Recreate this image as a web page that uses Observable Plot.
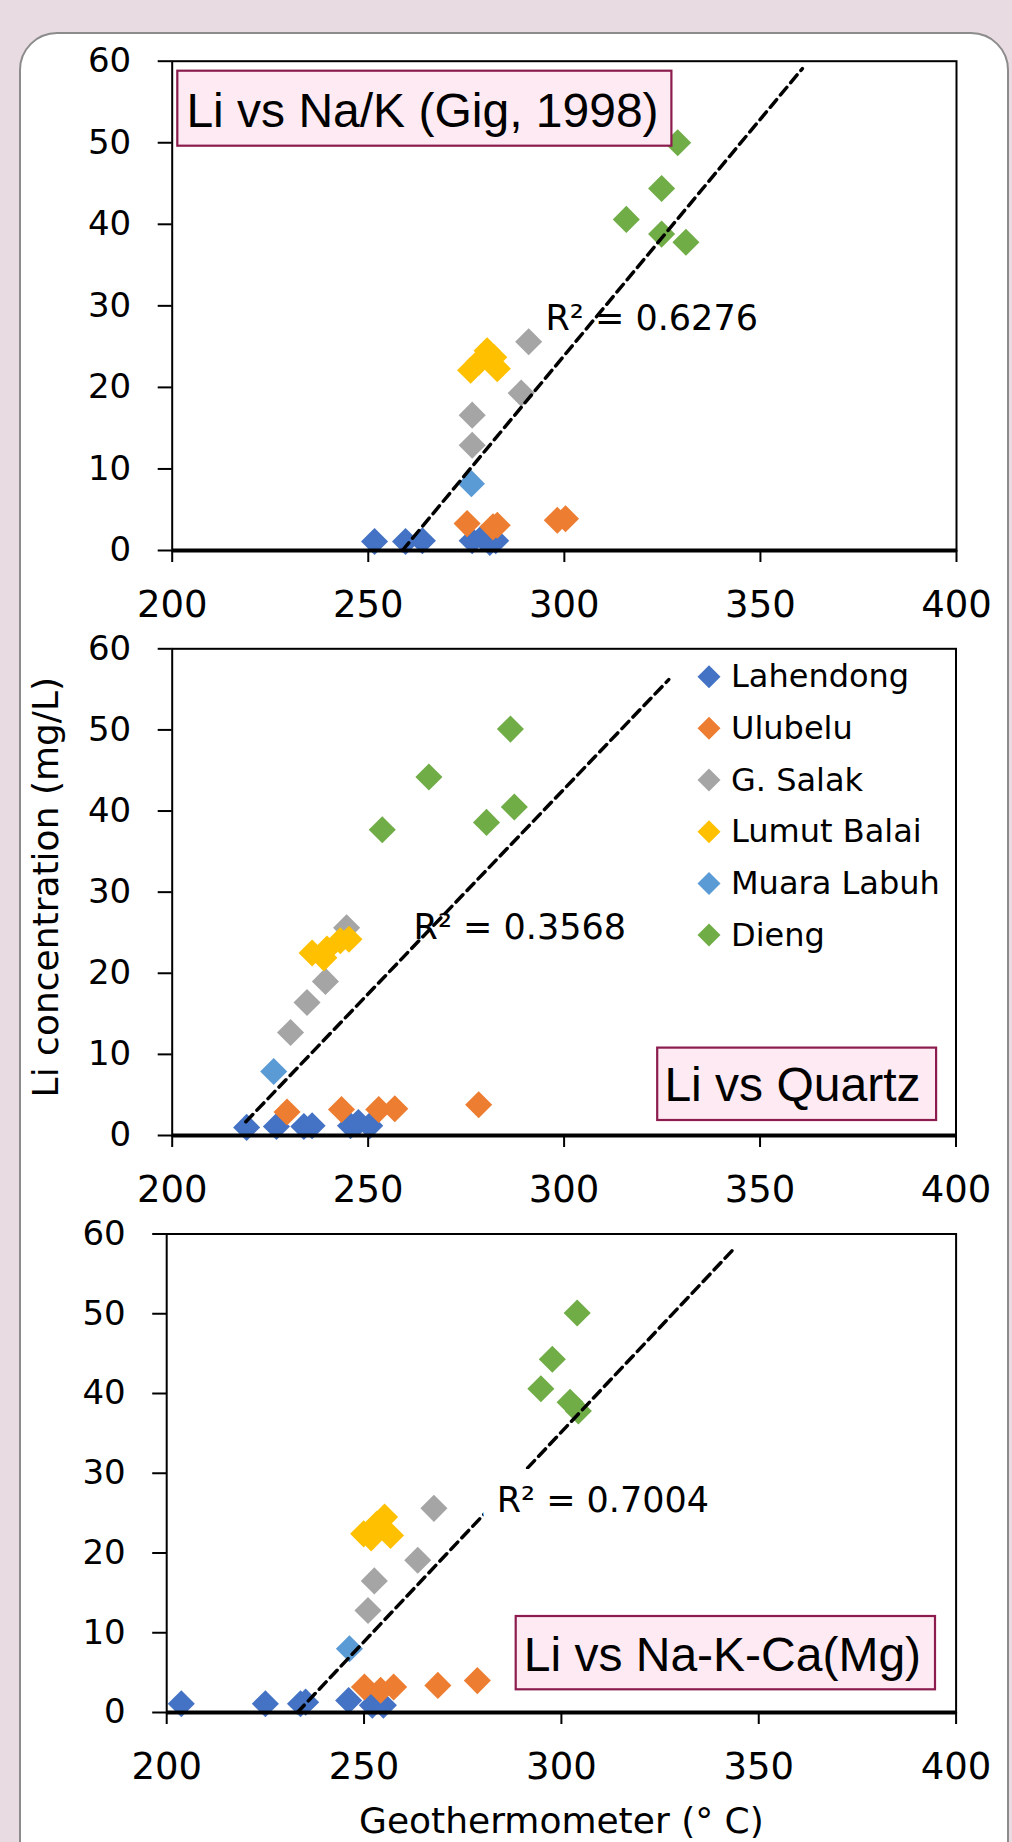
<!DOCTYPE html>
<html>
<head>
<meta charset="utf-8">
<script src="https://cdn.jsdelivr.net/npm/d3@7"></script>
<script src="https://cdn.jsdelivr.net/npm/@observablehq/plot@0.6"></script>
<style>
  body { margin: 0; background: #e9dbe2; }
  #wrap { position: relative; width: 1012px; height: 1842px; overflow: hidden; background: #e9dbe2; }
  #card { position: absolute; left: 19px; top: 32px; width: 990px; height: 1900px; box-sizing: border-box;
          background: #ffffff; border: 2px solid #8c8c8c; border-radius: 38px; }
</style>
</head>
<body>
<div id="wrap"><div id="card"></div></div>
<script>
// ---------------- data ----------------
const sites = ["Lahendong", "Ulubelu", "G. Salak", "Lumut Balai", "Muara Labuh", "Dieng"];
const siteColors = ["#4472c4", "#ed7d31", "#a5a5a5", "#ffc000", "#5b9bd5", "#70ad47"];
const xTicks = [200, 250, 300, 350, 400];
const yTicks = [0, 10, 20, 30, 40, 50, 60];

// [site, geothermometer temperature (°C), Li concentration (mg/L)]
const naKPoints = [
  ["Lahendong", 251.6, 1.1], ["Lahendong", 259.5, 1.1], ["Lahendong", 263.8, 1.2], ["Lahendong", 276.5, 1.2],
  ["Lahendong", 279.1, 1.6], ["Lahendong", 282.5, 1.2], ["Lahendong", 281.0, 1.0],
  ["Ulubelu", 275.2, 3.3], ["Ulubelu", 282.9, 3.1], ["Ulubelu", 281.8, 2.9], ["Ulubelu", 298.2, 3.7], ["Ulubelu", 300.3, 3.9],
  ["G. Salak", 290.9, 25.6], ["G. Salak", 289.0, 19.3], ["G. Salak", 276.5, 16.6], ["G. Salak", 276.5, 12.9],
  ["Lumut Balai", 276.1, 22.1], ["Lumut Balai", 278.2, 23.1], ["Lumut Balai", 280.3, 24.5], ["Lumut Balai", 282.0, 23.7], ["Lumut Balai", 282.9, 22.3],
  ["Muara Labuh", 276.3, 8.2],
  ["Dieng", 328.9, 50.0], ["Dieng", 324.8, 44.4], ["Dieng", 315.8, 40.6], ["Dieng", 324.8, 38.8], ["Dieng", 331.0, 37.8]
];
const quartzPoints = [
  ["Lahendong", 219.0, 1.0], ["Lahendong", 226.6, 1.1], ["Lahendong", 233.6, 1.1], ["Lahendong", 235.7, 1.2],
  ["Lahendong", 245.5, 1.2], ["Lahendong", 247.5, 1.6], ["Lahendong", 250.4, 1.2],
  ["Ulubelu", 229.3, 2.9], ["Ulubelu", 243.2, 3.2], ["Ulubelu", 252.7, 3.2], ["Ulubelu", 256.8, 3.3], ["Ulubelu", 278.2, 3.8],
  ["G. Salak", 244.5, 25.6], ["G. Salak", 239.1, 19.0], ["G. Salak", 234.4, 16.4], ["G. Salak", 230.2, 12.7],
  ["Lumut Balai", 235.7, 22.5], ["Lumut Balai", 238.7, 21.9], ["Lumut Balai", 239.5, 23.0], ["Lumut Balai", 242.9, 24.0], ["Lumut Balai", 245.1, 24.2],
  ["Muara Labuh", 225.9, 7.9],
  ["Dieng", 286.3, 50.1], ["Dieng", 265.5, 44.2], ["Dieng", 253.6, 37.7], ["Dieng", 280.2, 38.6], ["Dieng", 287.3, 40.5]
];
const naKCaPoints = [
  ["Lahendong", 203.7, 1.1], ["Lahendong", 225.0, 1.1], ["Lahendong", 233.9, 1.1], ["Lahendong", 235.2, 1.3],
  ["Lahendong", 246.1, 1.5], ["Lahendong", 252.1, 0.9], ["Lahendong", 254.9, 0.9],
  ["Ulubelu", 250.1, 3.2], ["Ulubelu", 254.2, 2.8], ["Ulubelu", 257.5, 3.2], ["Ulubelu", 268.7, 3.4], ["Ulubelu", 278.7, 4.0],
  ["G. Salak", 267.7, 25.6], ["G. Salak", 263.6, 19.1], ["G. Salak", 252.6, 16.5], ["G. Salak", 251.0, 12.8],
  ["Lumut Balai", 249.9, 22.4], ["Lumut Balai", 251.8, 21.9], ["Lumut Balai", 253.2, 23.6], ["Lumut Balai", 255.2, 24.5], ["Lumut Balai", 256.7, 22.2],
  ["Muara Labuh", 246.3, 8.0],
  ["Dieng", 304.0, 50.1], ["Dieng", 297.7, 44.3], ["Dieng", 294.8, 40.6], ["Dieng", 302.2, 38.9], ["Dieng", 304.3, 37.8]
];

// linear trend lines (end points): [temperature, Li]
const naKTrend = [[258.7, 0], [360.7, 59.1]];
const quartzTrend = [[218.8, 1.7], [326.7, 56.2]];
const naKCaTrend = [[233.1, 0], [344.0, 58.3]];

const r2Texts = ["R\u00b2 = 0.6276", "R\u00b2 = 0.3568", "R\u00b2 = 0.7004"];
const r2Anchors = [[295.2, 27.0], [261.6, 24.2], [283.6, 25.2]]; // [temperature, Li] of label baseline start
const panelTitles = ["Li vs Na/K (Gig, 1998)", "Li vs Quartz", "Li vs Na-K-Ca(Mg)"];
const yLabel = "Li concentration (mg/L)";
const xLabel = "Geothermometer (\u00b0 C)";

// ---------------- drawing ----------------
const wrap = document.getElementById("wrap");
const FONT = "DejaVu Sans";

function panel(cfg) {
  const rows = cfg.points.map(([site, t, li]) => ({site, t, li}));
  const trend = cfg.trend.map(([t, li]) => ({t, li}));
  const label = [{t: cfg.r2Anchor[0], li: cfg.r2Anchor[1], text: cfg.r2Text}];
  const svg = Plot.plot({
    width: 1012,
    height: cfg.height,
    marginTop: cfg.mt, marginBottom: cfg.mb, marginLeft: cfg.ml, marginRight: cfg.mr,
    style: {background: "transparent", fontFamily: FONT, fontSize: "34px", color: "#000", overflow: "visible"},
    x: {domain: [200, 400]},
    y: {domain: [0, 60]},
    color: {domain: sites, range: siteColors},
    marks: [
      Plot.dot(rows, {x: "t", y: "li", fill: "site", symbol: "diamond2", r: 12.2}),
      Plot.line(trend, {x: "t", y: "li", stroke: "black", strokeWidth: 3.5, strokeDasharray: "10,6"}),
      Plot.text(label, {x: "t", y: "li", text: "text", textAnchor: "start", lineAnchor: "bottom",
        fontSize: 35, fill: "black",
        ...(cfg.halo ? {stroke: "white", strokeWidth: 34, strokeLinejoin: "round"} : {})}),
      Plot.frame({stroke: "black", strokeWidth: 2}),
      Plot.ruleY([0], {stroke: "black", strokeWidth: 4}),
      Plot.axisY({ticks: yTicks, tickSize: 14, tickPadding: 27, strokeWidth: 2, fontSize: 34, label: null}),
      Plot.axisX({ticks: xTicks, tickSize: 12, tickPadding: 28, strokeWidth: 2, fontSize: 37, label: null}),
      ...(cfg.extra || [])
    ]
  });
  svg.style.position = "absolute";
  svg.style.left = "0px";
  svg.style.top = cfg.top + "px";
  wrap.appendChild(svg);
}

panel({points: naKPoints, trend: naKTrend, r2Text: r2Texts[0], r2Anchor: r2Anchors[0],
  top: 0, height: 630, mt: 60.7, mb: 80, ml: 171.7, mr: 56});

panel({points: quartzPoints, trend: quartzTrend, r2Text: r2Texts[1], r2Anchor: r2Anchors[1],
  top: 630, height: 600, mt: 18.3, mb: 95, ml: 171.7, mr: 56.5,
  extra: [Plot.text([yLabel], {text: d => d, frameAnchor: "left", rotate: -90, dx: -125.7, dy: -5,
    fontSize: 36, textAnchor: "middle", lineAnchor: "middle", fill: "black"})]});

panel({points: naKCaPoints, trend: naKCaTrend, r2Text: r2Texts[2], r2Anchor: r2Anchors[2], halo: true,
  top: 1215, height: 627, mt: 18.5, mb: 130, ml: 166.2, mr: 56.4,
  extra: [Plot.text([xLabel], {text: d => d, frameAnchor: "bottom", dy: 120,
    fontSize: 36, lineAnchor: "bottom", fill: "black"})]});

// ---------------- overlay: title boxes and legend ----------------
const overlay = d3.select(wrap).append("svg")
  .attr("width", 1012).attr("height", 1842)
  .style("position", "absolute").style("left", "0px").style("top", "0px")
  .style("pointer-events", "none");

const boxLayout = [
  {x: 177.3, y: 70.7, w: 494.1, h: 75.0, tx: 186.4, ty: 126.7},
  {x: 657.2, y: 1047.6, w: 278.9, h: 72.4, tx: 664.4, ty: 1101.4},
  {x: 515.7, y: 1616.0, w: 419.3, h: 73.3, tx: 523.7, ty: 1671.0}
];
panelTitles.forEach((title, i) => {
  const b = boxLayout[i];
  overlay.append("rect").attr("x", b.x).attr("y", b.y).attr("width", b.w).attr("height", b.h)
    .attr("fill", "#fdeaf2").attr("stroke", "#8b1c4d").attr("stroke-width", 2.2);
  overlay.append("text").attr("x", b.tx).attr("y", b.ty).text(title)
    .attr("font-family", "Liberation Sans").attr("font-size", 48).attr("fill", "#000");
});

const legendX = 709, legendY0 = 676.7, legendStep = 51.67, half = 11.5;
const legend = overlay.append("g");
sites.forEach((s, i) => {
  const cy = legendY0 + i * legendStep;
  legend.append("path")
    .attr("d", `M${legendX},${cy - half}L${legendX + half},${cy}L${legendX},${cy + half}L${legendX - half},${cy}Z`)
    .attr("fill", siteColors[i]);
  legend.append("text").attr("x", legendX + 22).attr("y", cy + 10.5).text(s)
    .attr("font-family", FONT).attr("font-size", 32).attr("fill", "#000");
});
</script>
</body>
</html>
